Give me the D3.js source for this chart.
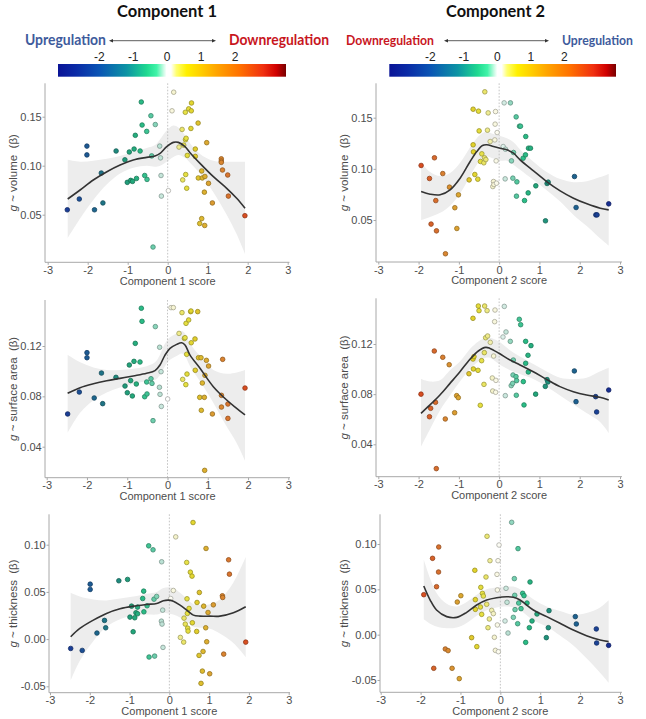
<!DOCTYPE html>
<html><head><meta charset="utf-8">
<script src="https://cdn.jsdelivr.net/npm/d3@7"></script>
<style>body{margin:0;background:#fff}svg{display:block}</style>
</head><body>
<svg id="chart" width="646" height="719"></svg>
<script>
// ---------- data ----------
const xTicks = [-3,-2,-1,0,1,2,3];
const volTicks = [0.05,0.10,0.15];
const areaTicks = [0.04,0.08,0.12];
const thickTicks = [-0.05,0.00,0.05,0.10];
const colorbarTicks = [-2,-1,0,1,2];
const componentTitles = ["Component 1","Component 2"];
const xTitles = ["Component 1 score","Component 2 score"];
const yMeasures = ["volume","surface area","thickness"];

// component 1 score vs beta (volume)
const c1Vol = [[-2.51,0.055],[-2.21,0.066],[-2.02,0.120],[-2.02,0.111],[-1.83,0.055],[-1.66,0.0925],[-1.62,0.062],[-1.29,0.115],[-1.07,0.106],[-1.01,0.083],[-0.96,0.114],[-0.925,0.085],[-0.88,0.084],[-0.84,0.117],[-0.81,0.131],[-0.78,0.087],[-0.69,0.115],[-0.66,0.165],[-0.64,0.1415],[-0.575,0.090],[-0.525,0.135],[-0.517,0.086],[-0.42,0.151],[-0.40,0.110],[-0.367,0.017],[-0.31,0.142],[-0.20,0.120],[-0.18,0.108],[-0.167,0.090],[-0.158,0.069],[0.017,0.0745],[0.15,0.175],[0.108,0.156],[0.283,0.119],[0.36,0.137],[0.375,0.0855],[0.40,0.121],[0.44,0.1545],[0.45,0.091],[0.445,0.1265],[0.46,0.128],[0.49,0.1105],[0.475,0.077],[0.525,0.158],[0.59,0.156],[0.58,0.138],[0.595,0.164],[0.69,0.117],[0.69,0.1095],[0.76,0.1435],[0.765,0.0875],[0.80,0.041],[0.85,0.0946],[0.85,0.046],[0.865,0.0875],[0.917,0.073],[0.925,0.039],[0.93,0.089],[0.975,0.1235],[1.02,0.082],[1.117,0.062],[1.34,0.107],[1.34,0.1048],[1.34,0.1034],[1.37,0.0956],[1.50,0.0905],[1.517,0.069],[1.93,0.049]];
// loess fit: [x, fit, lower, upper]
const c1VolFit = [[-2.5,0.066,0.026,0.106],[-2.19,0.0752,0.046,0.104],[-1.86,0.0854,0.065,0.105],[-1.52,0.0939,0.081,0.107],[-1.19,0.1007,0.092,0.110],[-0.86,0.1058,0.098,0.114],[-0.525,0.1085,0.100,0.118],[-0.317,0.1099,0.099,0.121],[-0.19,0.1126,0.100,0.127],[-0.025,0.1194,0.104,0.136],[0.142,0.1238,0.109,0.141],[0.267,0.1238,0.111,0.139],[0.433,0.1194,0.108,0.131],[0.558,0.1133,0.103,0.123],[0.808,0.1024,0.092,0.112],[1.142,0.0888,0.073,0.105],[1.475,0.0769,0.050,0.104],[1.725,0.0667,0.030,0.104],[1.933,0.0565,0.010,0.104]];

const c2Vol = [[-1.937,0.1033],[-1.73,0.0906],[-1.606,0.1108],[-1.573,0.069],[-1.69,0.046],[-1.556,0.0394],[-1.40,0.0954],[-1.333,0.017],[-1.233,0.0821],[-1.10,0.062],[-1.05,0.0417],[-1.01,0.0746],[-0.745,0.0892],[-0.646,0.1583],[-0.646,0.1235],[-0.637,0.1166],[-0.604,0.0945],[-0.53,0.0899],[-0.513,0.1564],[-0.497,0.1371],[-0.464,0.1072],[-0.43,0.1147],[-0.38,0.1059],[-0.364,0.1108],[-0.33,0.1091],[-0.356,0.1753],[-0.273,0.1547],[-0.29,0.1378],[-0.223,0.1267],[-0.157,0.0827],[-0.14,0.0876],[-0.13,0.0847],[-0.108,0.1283],[-0.10,0.1437],[-0.09,0.156],[-0.075,0.1078],[-0.066,0.086],[-0.05,0.1355],[0.124,0.1645],[0.28,0.1645],[0.10,0.1218],[0.157,0.1192],[0.149,0.0902],[0.306,0.1078],[0.34,0.0909],[0.356,0.116],[0.422,0.1508],[0.44,0.0873],[0.43,0.0733],[0.505,0.1417],[0.53,0.1417],[0.596,0.1104],[0.63,0.069],[0.654,0.1137],[0.66,0.1316],[0.72,0.0765],[0.728,0.1202],[0.778,0.1202],[0.91,0.0834],[1.15,0.0492],[1.19,0.0857],[1.217,0.087],[1.87,0.0925],[1.91,0.0622],[2.40,0.055],[2.43,0.055],[2.72,0.0658]];
const c2VolFit = [[-1.937,0.0778,0.050,0.106],[-1.714,0.0752,0.053,0.097],[-1.465,0.0746,0.057,0.093],[-1.217,0.0795,0.064,0.096],[-0.969,0.0909,0.076,0.106],[-0.72,0.1072,0.093,0.121],[-0.555,0.1169,0.104,0.130],[-0.414,0.1228,0.111,0.135],[-0.306,0.1235,0.112,0.136],[-0.141,0.1218,0.110,0.134],[0.025,0.1202,0.108,0.132],[0.19,0.1186,0.108,0.130],[0.356,0.1153,0.104,0.126],[0.52,0.1088,0.099,0.119],[0.853,0.098,0.089,0.107],[1.18,0.0876,0.079,0.097],[1.515,0.0785,0.068,0.090],[1.846,0.0713,0.055,0.087],[2.18,0.0658,0.044,0.088],[2.51,0.0615,0.032,0.092],[2.72,0.0599,0.025,0.095]];

const c1Area = [[-2.48,0.066],[-2.19,0.0834],[-2.0,0.1147],[-2.0,0.1107],[-1.82,0.0787],[-1.64,0.0985],[-1.61,0.0742],[-1.28,0.0951],[-1.055,0.0882],[-0.998,0.0829],[-0.948,0.1049],[-0.915,0.0925],[-0.873,0.0803],[-0.832,0.1078],[-0.80,0.1221],[-0.774,0.0898],[-0.683,0.1073],[-0.65,0.150],[-0.633,0.1396],[-0.567,0.0797],[-0.517,0.0914],[-0.509,0.0819],[-0.41,0.094],[-0.385,0.0903],[-0.36,0.0607],[-0.302,0.1354],[-0.195,0.119],[-0.16,0.0996],[-0.2,0.0872],[-0.186,0.0816],[-0.153,0.072],[0.004,0.0779],[0.087,0.1505],[0.145,0.1505],[0.286,0.130],[0.36,0.1465],[0.377,0.0935],[0.42,0.126],[0.435,0.1266],[0.455,0.0893],[0.46,0.138],[0.476,0.1134],[0.484,0.0977],[0.526,0.1407],[0.575,0.1473],[0.583,0.1478],[0.59,0.1226],[0.683,0.1256],[0.69,0.1007],[0.75,0.1473],[0.77,0.1107],[0.80,0.0792],[0.832,0.1107],[0.84,0.0689],[0.865,0.0906],[0.915,0.0792],[0.93,0.0967],[0.966,0.1086],[0.923,0.0212],[1.02,0.1041],[1.115,0.066],[1.34,0.0808],[1.34,0.0715],[1.37,0.1094],[1.50,0.0739],[1.50,0.0625],[1.925,0.0866]];
const c1AreaFit = [[-2.48,0.0824,0.051,0.113],[-2.17,0.0869,0.067,0.107],[-1.84,0.090,0.077,0.103],[-1.51,0.0924,0.083,0.101],[-1.18,0.0943,0.087,0.101],[-0.85,0.0962,0.090,0.102],[-0.517,0.0983,0.092,0.104],[-0.31,0.1004,0.093,0.107],[-0.186,0.1049,0.097,0.113],[-0.062,0.1128,0.104,0.122],[0.062,0.1181,0.109,0.127],[0.228,0.1213,0.112,0.130],[0.352,0.1226,0.114,0.132],[0.435,0.1208,0.112,0.130],[0.559,0.1128,0.104,0.122],[0.807,0.1023,0.092,0.112],[1.138,0.0877,0.075,0.101],[1.47,0.0771,0.056,0.098],[1.717,0.0705,0.043,0.099],[1.925,0.0652,0.029,0.101]];

const c2Area = [[-1.94,0.080],[-1.70,0.0687],[-1.73,0.062],[-1.61,0.1144],[-1.58,0.0735],[-1.56,0.0206],[-1.40,0.1094],[-1.337,0.0602],[-1.24,0.1035],[-1.105,0.0652],[-1.055,0.0788],[-1.014,0.0772],[-0.75,0.0963],[-0.65,0.1405],[-0.65,0.108],[-0.625,0.1099],[-0.64,0.1001],[-0.525,0.099],[-0.517,0.1503],[-0.50,0.1466],[-0.468,0.0711],[-0.435,0.1067],[-0.377,0.0878],[-0.36,0.1503],[-0.30,0.1466],[-0.368,0.1131],[-0.335,0.125],[-0.286,0.1264],[-0.22,0.1213],[-0.17,0.0929],[-0.16,0.0825],[-0.137,0.1104],[-0.112,0.1378],[-0.103,0.1471],[-0.08,0.091],[-0.087,0.0815],[0.095,0.1256],[0.128,0.150],[0.153,0.0788],[0.17,0.1296],[0.277,0.1221],[0.352,0.1072],[0.30,0.0868],[0.344,0.0953],[0.335,0.0886],[0.418,0.094],[0.426,0.0791],[0.434,0.0908],[0.50,0.1397],[0.534,0.1354],[0.60,0.09],[0.617,0.0714],[0.658,0.1221],[0.658,0.1046],[0.716,0.111],[0.724,0.0977],[0.79,0.1187],[0.906,0.080],[1.146,0.0862],[1.19,0.0916],[1.21,0.0897],[1.867,0.0985],[1.908,0.074],[2.396,0.078],[2.42,0.0658],[2.72,0.0833]];
const c2AreaFit = [[-1.94,0.0647,0.038,0.092],[-1.717,0.0714,0.052,0.090],[-1.47,0.0793,0.067,0.091],[-1.22,0.0886,0.079,0.099],[-0.973,0.0979,0.090,0.106],[-0.724,0.1078,0.100,0.116],[-0.517,0.1144,0.106,0.122],[-0.335,0.1173,0.109,0.125],[-0.228,0.1165,0.109,0.125],[-0.004,0.1126,0.104,0.122],[0.27,0.1072,0.099,0.115],[0.517,0.1033,0.096,0.110],[0.848,0.0979,0.092,0.104],[1.18,0.0918,0.086,0.098],[1.51,0.086,0.079,0.093],[1.842,0.082,0.072,0.092],[2.17,0.0793,0.065,0.093],[2.5,0.0775,0.058,0.098],[2.72,0.0753,0.049,0.101]];

const c1Thick = [[-2.48,-0.0099],[-2.19,-0.012],[-1.99,0.0582],[-1.99,0.0526],[-1.82,0.0064],[-1.63,0.0198],[-1.60,0.012],[-1.27,0.0618],[-1.05,0.0632],[-0.99,0.0233],[-0.95,0.0349],[-0.91,0.0078],[-0.87,0.0226],[-0.84,0.0279],[-0.80,0.0339],[-0.80,0.0268],[-0.67,0.043],[-0.645,0.0508],[-0.64,0.0289],[-0.56,0.0353],[-0.52,0.0988],[-0.51,-0.019],[-0.41,0.0946],[-0.386,0.0423],[-0.37,-0.018],[-0.32,0.0452],[-0.193,0.0819],[-0.168,0.0307],[-0.20,0.019],[-0.184,0.0159],[-0.16,-0.0088],[0.034,0.043],[0.10,0.0515],[0.16,0.1083],[0.277,0.0018],[0.36,-0.0032],[0.369,0.0222],[0.40,0.0159],[0.436,0.0812],[0.444,0.0427],[0.453,0.0272],[0.461,0.0116],[0.47,0.0085],[0.495,0.0325],[0.528,0.0709],[0.57,0.0667],[0.578,0.0173],[0.595,0.1235],[0.687,0.0081],[0.696,0.0388],[0.746,-0.0173],[0.754,0.0494],[0.796,-0.0469],[0.83,-0.0339],[0.847,-0.0131],[0.863,0.0349],[0.914,0.012],[0.922,0.096],[0.939,-0.0028],[0.972,0.0282],[1.014,-0.0367],[1.106,0.0363],[1.333,0.0459],[1.341,0.0441],[1.366,-0.0159],[1.49,0.084],[1.51,0.0688],[1.92,-0.0032]];
const c1ThickFit = [[-2.48,0.0025,-0.044,0.049],[-2.25,0.0113,-0.023,0.045],[-1.91,0.0201,-0.002,0.042],[-1.58,0.0272,0.013,0.041],[-1.24,0.0321,0.021,0.043],[-0.905,0.0349,0.025,0.045],[-0.57,0.0367,0.026,0.048],[-0.318,0.0378,0.026,0.050],[-0.151,0.0406,0.028,0.054],[-0.025,0.0413,0.027,0.055],[0.1,0.0402,0.026,0.054],[0.268,0.036,0.023,0.049],[0.436,0.0307,0.019,0.043],[0.604,0.0254,0.013,0.037],[0.77,0.0243,0.012,0.036],[1.02,0.0243,0.011,0.037],[1.27,0.0243,0.006,0.042],[1.61,0.0279,-0.004,0.060],[1.92,0.0342,-0.019,0.087]];

const c2Thick = [[-1.92,0.0441],[-1.70,0.0842],[-1.67,-0.0371],[-1.60,0.0529],[-1.55,0.0691],[-1.545,0.0967],[-1.38,-0.0158],[-1.31,-0.0176],[-1.21,-0.0371],[-1.08,0.036],[-1.03,-0.0485],[-0.99,0.043],[-0.72,-0.0033],[-0.64,0.071],[-0.627,0.0386],[-0.627,0.0279],[-0.59,-0.0132],[-0.49,0.0522],[-0.468,0.0224],[-0.45,0.0456],[-0.426,0.0426],[-0.50,0.0305],[-0.36,0.0636],[-0.343,0.0335],[-0.334,0.1085],[-0.31,0.0077],[-0.276,0.0173],[-0.26,0.0816],[-0.217,0.0268],[-0.175,0.0232],[-0.15,-0.0029],[-0.125,-0.0173],[-0.084,0.0665],[-0.075,0.0493],[-0.075,0.0107],[-0.058,0.0816],[-0.05,-0.0188],[-0.033,0.0989],[0.117,0.0151],[0.142,0.0511],[0.167,0.0357],[0.192,0.0018],[0.284,0.1239],[0.326,0.0191],[0.351,0.0618],[0.36,0.0434],[0.368,0.0276],[0.434,0.0121],[0.443,0.0949],[0.46,0.0349],[0.518,0.0287],[0.56,0.0456],[0.593,0.043],[0.635,-0.0085],[0.668,0.0349],[0.727,0.0077],[0.744,0.0581],[0.794,0.0151],[0.919,0.0228],[1.153,-0.0033],[1.203,0.0077],[1.22,0.0265],[1.88,0.0199],[1.905,0.0118],[2.406,0.0063],[2.414,-0.0092],[2.715,-0.0118]];
const c2ThickFit = [[-1.92,0.0537,0.017,0.083],[-1.76,0.0382,0.012,0.062],[-1.6,0.0272,0.009,0.046],[-1.345,0.0199,0.007,0.034],[-1.094,0.0191,0.008,0.031],[-0.844,0.0246,0.013,0.036],[-0.593,0.0327,0.021,0.044],[-0.343,0.0382,0.027,0.050],[-0.092,0.0408,0.030,0.052],[0.159,0.0419,0.031,0.053],[0.326,0.0412,0.030,0.053],[0.493,0.0382,0.027,0.050],[0.827,0.0272,0.016,0.039],[1.161,0.0199,0.009,0.031],[1.495,0.0125,-0.001,0.026],[1.83,0.0051,-0.012,0.022],[2.16,-0.0011,-0.026,0.024],[2.5,-0.0059,-0.042,0.030],[2.715,-0.0077,-0.053,0.038]];

// ---------- styles / layout ----------
const AX = "Liberation Sans, Arial, sans-serif";
const HD = "Lato, 'Open Sans', sans-serif";
const svg = d3.select("#chart");

// point colour scale (score -> fill)
const ptColor = d3.scaleLinear()
  .domain([-2.8,-2.5,-2.0,-1.6,-1.2,-0.9,-0.6,-0.4,-0.2,0,0.15,0.3,0.45,0.65,0.85,1.0,1.3,1.6,1.95])
  .range(["#16288f","#1a3d96","#1d5a94","#1e7585","#1f907c","#22a67a","#2bbf88","#5ccaa4","#b8e0d2","#ffffff","#f6f4d0","#eeea84","#e6e040","#e2d22a","#deb82e","#dca630","#da8a30","#d86a2c","#d84c20"])
  .clamp(true);

const panels = [
  {pts:c1Vol, fit:c1VolFit, sign:1, col:0, row:0, ticks:volTicks,
   box:{xm3:47.7,xp3:287.7,left:45,right:289.5,top:83.3,bottom:262.3,ya:[0.15,116.7],yb:[0.05,214.7],ytx:13.3}},
  {pts:c2Vol, fit:c2VolFit, sign:-1, col:1, row:0, ticks:volTicks,
   box:{xm3:378.3,xp3:620,left:376,right:622,top:83.3,bottom:262,ya:[0.15,117.7],yb:[0.05,220],ytx:343.5}},
  {pts:c1Area, fit:c1AreaFit, sign:1, col:0, row:1, ticks:areaTicks,
   box:{xm3:46.7,xp3:288.3,left:45,right:290,top:300,bottom:477.7,ya:[0.12,346],yb:[0.04,446.7],ytx:13.3}},
  {pts:c2Area, fit:c2AreaFit, sign:-1, col:1, row:1, ticks:areaTicks,
   box:{xm3:378.3,xp3:620,left:376,right:622,top:298.3,bottom:476.7,ya:[0.12,344],yb:[0.04,444.3],ytx:343.5}},
  {pts:c1Thick, fit:c1ThickFit, sign:1, col:0, row:2, ticks:thickTicks,
   box:{xm3:50,xp3:288.7,left:49,right:290,top:514.3,bottom:692.7,ya:[0.10,544.7],yb:[-0.05,686.3],ytx:13.3}},
  {pts:c2Thick, fit:c2ThickFit, sign:-1, col:1, row:2, ticks:thickTicks,
   box:{xm3:380.7,xp3:620,left:380,right:622,top:514.3,bottom:692.3,ya:[0.10,544],yb:[-0.05,680],ytx:344}}
];

function drawPanel(p){
  const b = p.box;
  const x = d3.scaleLinear().domain([-3,3]).range([b.xm3,b.xp3]);
  const y = d3.scaleLinear().domain([b.ya[0],b.yb[0]]).range([b.ya[1],b.yb[1]]);
  const g = svg.append("g");

  const band = d3.area().x(d=>x(d[0])).y0(d=>y(d[2])).y1(d=>y(d[3])).curve(d3.curveCatmullRom.alpha(0.5));
  g.append("path").datum(p.fit).attr("d",band).attr("fill","#ededed");

  g.append("line").attr("x1",x(0)).attr("x2",x(0)).attr("y1",b.top).attr("y2",b.bottom)
    .attr("stroke","#b5b5b5").attr("stroke-width",0.8).attr("stroke-dasharray","1.6,1.6");

  g.append("g").selectAll("circle").data(p.pts).join("circle")
    .attr("cx",d=>x(d[0])).attr("cy",d=>y(d[1])).attr("r",2.3)
    .attr("fill",d=>ptColor(p.sign*d[0]))
    .attr("stroke",d=>d3.color(ptColor(p.sign*d[0])).darker(1.1).formatHex())
    .attr("stroke-width",0.8);

  const line = d3.line().x(d=>x(d[0])).y(d=>y(d[1])).curve(d3.curveCatmullRom.alpha(0.5));
  g.append("path").datum(p.fit).attr("d",line).attr("fill","none")
    .attr("stroke","#333").attr("stroke-width",1.6);

  const axCol = "#a8a8a8";
  g.append("line").attr("x1",b.left).attr("x2",b.right).attr("y1",b.bottom).attr("y2",b.bottom)
    .attr("stroke",axCol).attr("stroke-width",1);
  g.append("line").attr("x1",b.left).attr("x2",b.left).attr("y1",b.top).attr("y2",b.bottom)
    .attr("stroke",axCol).attr("stroke-width",1);

  const xa = g.append("g").attr("transform",`translate(0,${b.bottom})`)
    .call(d3.axisBottom(x).tickValues(xTicks).tickSize(2.5).tickPadding(1.5).tickFormat(d=>String(d)));
  const ya = g.append("g").attr("transform",`translate(${b.left},0)`)
    .call(d3.axisLeft(y).tickValues(p.ticks).tickSize(2.5).tickPadding(0.8).tickFormat(d=>d.toFixed(2)));
  [xa,ya].forEach(a=>{
    a.select(".domain").remove();
    a.selectAll(".tick line").attr("stroke",axCol);
    a.selectAll(".tick text").attr("fill","#4d4d4d").attr("font-family",AX).attr("font-size",11);
  });

  g.append("text").attr("x",x(0)).attr("y",b.bottom+22.3).attr("text-anchor","middle")
    .attr("font-family",AX).attr("font-size",11).attr("fill","#4d4d4d").text(xTitles[p.col]);
  const yc = (b.top+b.bottom)/2;
  const yt = g.append("text").attr("transform",`translate(${b.ytx+4},${yc}) rotate(-90)`)
    .attr("text-anchor","middle").attr("font-family",AX).attr("font-size",11.5).attr("fill","#4d4d4d");
  yt.append("tspan").attr("font-style","italic").text("g");
  yt.append("tspan").text(" ~ " + yMeasures[p.row] + "\u00a0 (\u03b2)");
}
panels.forEach(drawPanel);

// ---------- header ----------
const UP = "#3e5b9c", DOWN = "#c8161e";
const headers = [
  {title:componentTitles[0], tx:167, tw:100, left:{t:"Upregulation",x:25,w:81,c:UP,fs:15}, right:{t:"Downregulation",x:229,w:100,c:DOWN,fs:15},
   arrow:[109,216], bar:[58,286], cbRange:[99.3,235]},
  {title:componentTitles[1], tx:495.5, tw:99, left:{t:"Downregulation",x:346,w:88,c:DOWN,fs:13.5}, right:{t:"Upregulation",x:562,w:71,c:UP,fs:13.5},
   arrow:[444,549], bar:[389.3,616], cbRange:[430.3,564.3]}
];

const cbStops = [[-3.22,"#0a1496"],[-2.7,"#0a2aa6"],[-2.0,"#0a55b4"],[-1.2,"#0c94a4"],[-0.62,"#1ed890"],[-0.32,"#40f4a8"],[-0.12,"#c8fbe4"],[-0.03,"#ffffff"],[0.1,"#ffffff"],[0.26,"#ffff70"],[0.56,"#fff000"],[1.0,"#ffcc00"],[1.44,"#ffa500"],[2.13,"#ff7000"],[2.81,"#f03010"],[3.2,"#d00000"],[3.48,"#780000"]];
const defs = svg.append("defs");
const grad = defs.append("linearGradient").attr("id","cbgrad").attr("x1","0%").attr("x2","100%");
grad.selectAll("stop").data(cbStops).join("stop")
  .attr("offset",d=>((d[0]+3.22)/6.70*100)+"%").attr("stop-color",d=>d[1]);

headers.forEach(h=>{
  svg.append("text").attr("x",h.tx).attr("y",16.5).attr("text-anchor","middle")
    .attr("font-family",HD).attr("font-weight","bold").attr("font-size",17.5).attr("fill","#111")
    .attr("textLength",h.tw).attr("lengthAdjust","spacingAndGlyphs").text(h.title);
  [h.left,h.right].forEach(l=>{
    svg.append("text").attr("x",l.x).attr("y",45).attr("font-family",HD)
      .attr("font-weight","bold").attr("font-size",l.fs).attr("fill",l.c)
      .attr("textLength",l.w).attr("lengthAdjust","spacingAndGlyphs").text(l.t);
  });
  const ay = 40.7;
  svg.append("line").attr("x1",h.arrow[0]+3).attr("x2",h.arrow[1]-3).attr("y1",ay).attr("y2",ay)
    .attr("stroke","#333").attr("stroke-width",0.8);
  svg.append("path").attr("d",`M${h.arrow[0]},${ay}l4,-1.8l0,3.6z`).attr("fill","#333");
  svg.append("path").attr("d",`M${h.arrow[1]},${ay}l-4,-1.8l0,3.6z`).attr("fill","#333");
  svg.append("rect").attr("x",h.bar[0]).attr("y",64).attr("width",h.bar[1]-h.bar[0]).attr("height",12.7)
    .attr("fill","url(#cbgrad)");
  const cb = d3.scaleLinear().domain([-2,2]).range(h.cbRange);
  svg.append("g").selectAll("text").data(colorbarTicks).join("text")
    .attr("x",d=>cb(d)).attr("y",61).attr("text-anchor","middle")
    .attr("font-family",AX).attr("font-size",12).attr("fill","#222").text(d=>String(d));
});
</script>
</body></html>
